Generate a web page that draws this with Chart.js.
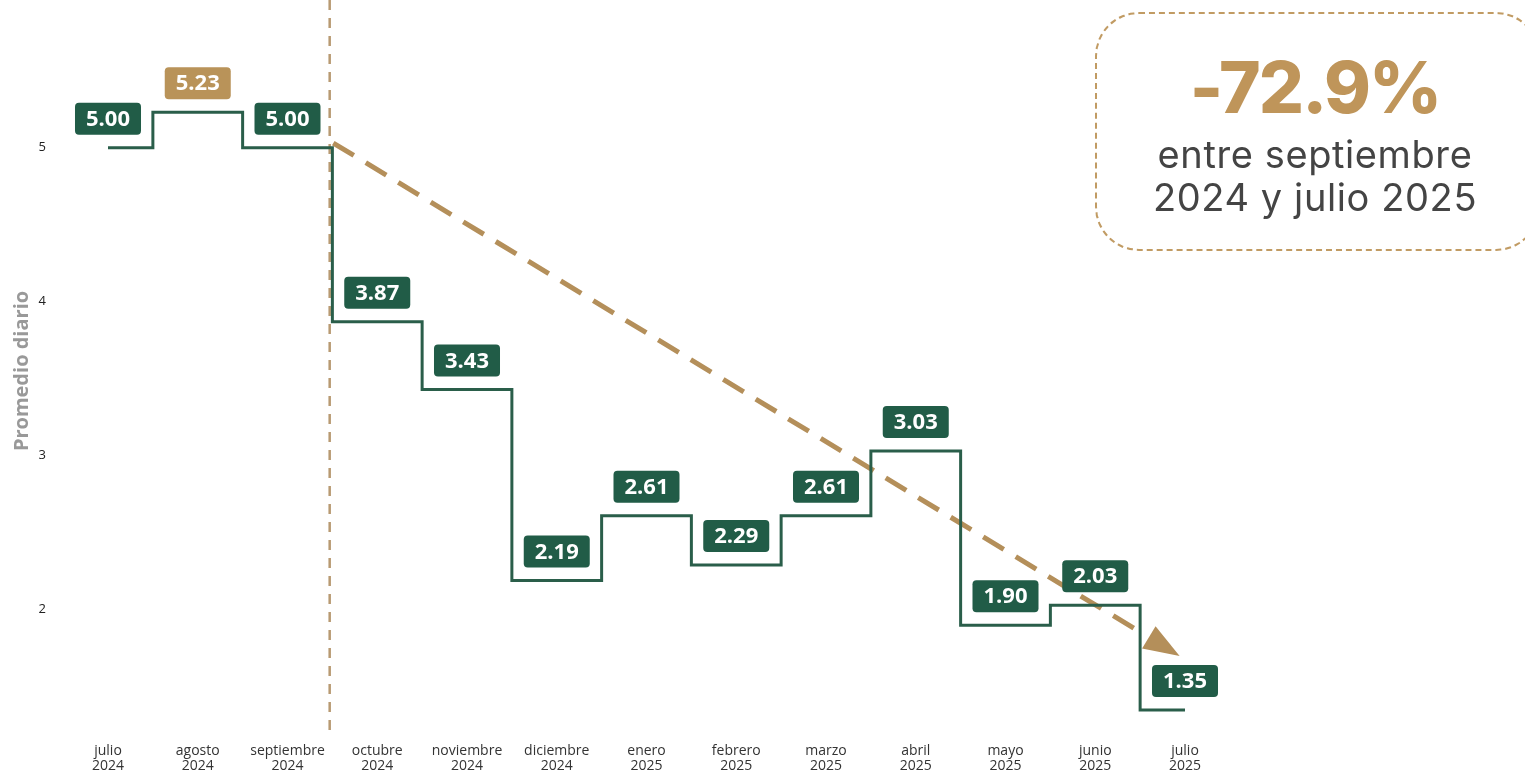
<!DOCTYPE html>
<html lang="es">
<head>
<meta charset="utf-8">
<script src="https://cdn.jsdelivr.net/npm/chart.js@4.4.1/dist/chart.umd.min.js"></script>
<style>
  html, body { margin: 0; padding: 0; background: #fff; overflow: hidden; }
  #wrap { position: relative; width: 1525px; height: 775px; }
  #callout {
    position: absolute; left: 1095px; top: 12px; width: 445px; height: 239px;
    box-sizing: border-box; border: 2px dashed #c19b63; border-radius: 44px;
    font-family: Inter, sans-serif; text-align: center;
  }
  #callout .big {
    position: absolute; left: 0; width: 436px; top: 38px;
    font-size: 71px; font-weight: 800; color: #bf955a; letter-spacing: -2px; line-height: 71px;
  }
  #callout .sub {
    position: absolute; left: 0; width: 436px; top: 119px;
    font-size: 38px; font-weight: 400; color: #444; line-height: 43px; letter-spacing: 0.6px;
  }
</style>
</head>
<body>
<div id="wrap">
  <canvas id="chart" width="1525" height="775"></canvas>
  <div id="callout">
    <div class="big">-72.9%</div>
    <div class="sub">entre septiembre<br>2024 y julio 2025</div>
  </div>
</div>
<script>
const months = [
  ['julio', '2024'], ['agosto', '2024'], ['septiembre', '2024'], ['octubre', '2024'],
  ['noviembre', '2024'], ['diciembre', '2024'], ['enero', '2025'], ['febrero', '2025'],
  ['marzo', '2025'], ['abril', '2025'], ['mayo', '2025'], ['junio', '2025'], ['julio', '2025']
];
const promedio = [5.00, 5.23, 5.00, 3.87, 3.43, 2.19, 2.61, 2.29, 2.61, 3.03, 1.90, 2.03, 1.35];
const yTicks = [2, 3, 4, 5];
const highlightIndex = 1;       // agosto 2024 gets the tan label
const markerIndex = 2.47;       // vertical dashed line, just before octubre
const trendStart = [2.51, 5.03];
const trendEnd = [11.94, 1.70];

const green = '#2a5e4a';
const labelGreen = '#215c47';
const tan = '#b48f5a';

const annotations = {
  id: 'annotations',
  beforeDatasetsDraw(chart) {
    const { ctx, chartArea, scales: { x, y } } = chart;
    ctx.save();
    // vertical marker
    const mx = x.getPixelForValue(markerIndex);
    ctx.strokeStyle = '#b89a72';
    ctx.lineWidth = 2.5;
    ctx.setLineDash([10, 8]);
    ctx.beginPath();
    ctx.moveTo(mx, 0);
    ctx.lineTo(mx, chartArea.bottom + 2);
    ctx.stroke();

    // trend arrow
    const x0 = x.getPixelForValue(trendStart[0]), y0 = y.getPixelForValue(trendStart[1]);
    const x1 = x.getPixelForValue(trendEnd[0]), y1 = y.getPixelForValue(trendEnd[1]);
    const ang = Math.atan2(y1 - y0, x1 - x0);
    const headLen = 36, headW = 13;
    const bx = x1 - Math.cos(ang) * headLen, by = y1 - Math.sin(ang) * headLen;
    ctx.strokeStyle = tan;
    ctx.lineWidth = 5;
    ctx.setLineDash([24, 14]);
    ctx.beginPath();
    ctx.moveTo(x0, y0);
    ctx.lineTo(bx - Math.cos(ang) * 6, by - Math.sin(ang) * 6);
    ctx.stroke();
    ctx.setLineDash([]);
    ctx.fillStyle = tan;
    ctx.beginPath();
    ctx.moveTo(x1, y1);
    ctx.lineTo(bx - Math.sin(ang) * headW, by + Math.cos(ang) * headW);
    ctx.lineTo(bx + Math.sin(ang) * headW, by - Math.cos(ang) * headW);
    ctx.closePath();
    ctx.fill();
    ctx.restore();
  },
  afterDatasetsDraw(chart) {
    const { ctx, scales: { x, y } } = chart;
    ctx.save();
    ctx.font = 'bold 22px "Open Sans"';
    ctx.textAlign = 'center';
    ctx.textBaseline = 'middle';
    promedio.forEach((v, i) => {
      const px = x.getPixelForValue(i);
      const py = y.getPixelForValue(v);
      const txt = v.toFixed(2);
      const w = ctx.measureText(txt).width + 22;
      const h = 32;
      const top = py - 13 - h;
      ctx.fillStyle = i === highlightIndex ? '#b99359' : labelGreen;
      ctx.beginPath();
      ctx.roundRect(px - w / 2, top, w, h, 4);
      ctx.fill();
      ctx.fillStyle = '#fff';
      ctx.fillText(txt, px, top + h / 2 + 1);
    });
    ctx.restore();
  }
};

new Chart(document.getElementById('chart'), {
  type: 'line',
  data: {
    labels: months,
    datasets: [{
      data: promedio,
      borderColor: green,
      borderWidth: 3,
      pointRadius: 0,
      stepped: 'middle',
      fill: false
    }]
  },
  options: {
    responsive: false,
    animation: false,
    layout: { padding: { top: 9, right: 340, bottom: 0, left: 0 } },
    plugins: {
      legend: { display: false },
      tooltip: { enabled: false }
    },
    scales: {
      x: {
        offset: false,
        afterFit: s => { s.height = 42; },
        grid: { display: false, drawTicks: false },
        border: { display: false },
        ticks: {
          padding: 11,
          maxRotation: 0,
          autoSkip: false,
          color: '#333',
          font: { family: 'Open Sans', size: 14, lineHeight: 1.07 }
        }
      },
      y: {
        min: 1.2,
        max: 5.9,
        afterBuildTicks: s => { s.ticks = yTicks.map(v => ({ value: v })); },
        afterFit: s => { s.width = 108; s.paddingTop = 0; s.paddingBottom = 0; },
        grid: { display: false, drawTicks: false },
        border: { display: false },
        ticks: {
          padding: 62,
          color: '#222',
          font: { family: 'Open Sans', size: 13 }
        },
        title: {
          display: true,
          text: 'Promedio diario',
          color: '#999',
          padding: { top: 10, bottom: 0 },
          font: { family: 'Open Sans', size: 20, weight: 'bold' }
        }
      }
    }
  },
  plugins: [annotations]
});
</script>
</body>
</html>
